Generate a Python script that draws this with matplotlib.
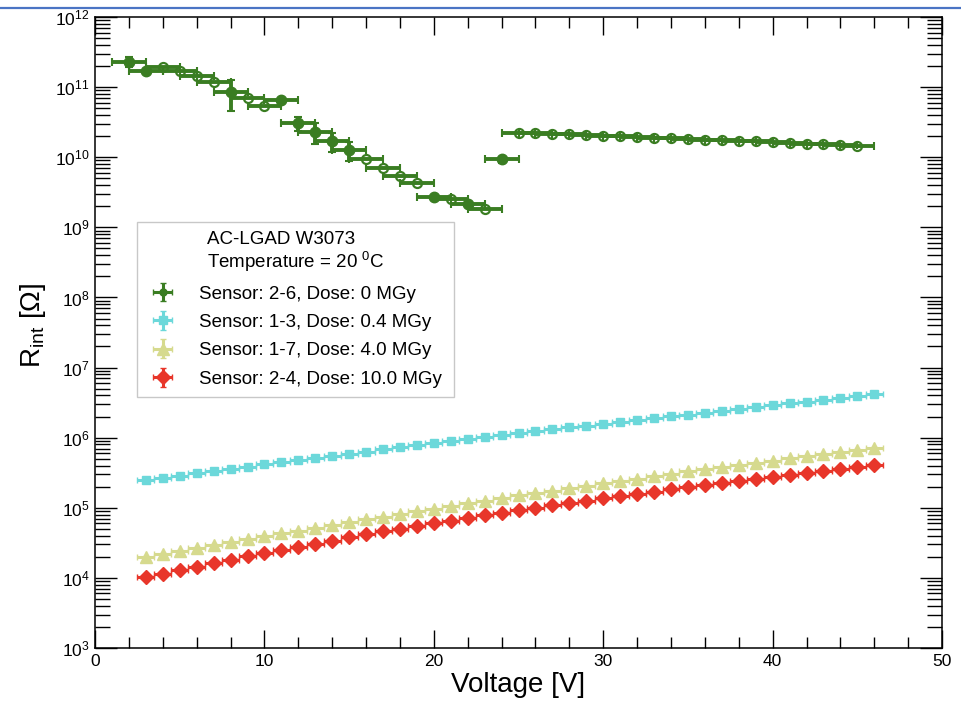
import numpy as np
import matplotlib
matplotlib.use("Agg")
import matplotlib.pyplot as plt
from matplotlib.lines import Line2D
from matplotlib.patches import Rectangle
from matplotlib.ticker import (FixedLocator, MultipleLocator, LogFormatterMathtext,
                               NullFormatter)

plt.rcParams["font.family"] = ["Liberation Sans", "DejaVu Sans"]
plt.rcParams["mathtext.fontset"] = "custom"
plt.rcParams["mathtext.rm"] = "Liberation Sans"
plt.rcParams["mathtext.it"] = "Liberation Sans:italic"

# sensor 2-6, 0 MGy (1 V steps, +-1 V on the bias)
v_26 = list(range(2, 46))
r_26 = [2.30e11, 1.71e11, 1.95e11, 1.70e11, 1.44e11, 1.17e11, 8.6e10, 7.1e10,
        5.3e10, 6.5e10, 3.04e10, 2.29e10, 1.70e10, 1.27e10, 9.4e9, 7.1e9,
        5.4e9, 4.33e9, 2.68e9, 2.53e9, 2.13e9, 1.81e9, 9.3e9,
        2.22e10, 2.20e10, 2.16e10, 2.12e10, 2.07e10, 2.03e10, 1.99e10,
        1.95e10, 1.91e10, 1.87e10, 1.83e10, 1.79e10, 1.75e10, 1.71e10,
        1.68e10, 1.64e10, 1.61e10, 1.57e10, 1.54e10, 1.50e10, 1.46e10]
r_26_err = [3.5e10, 0, 0, 0, 0, 0, 4.1e10, 0,
            0, 3.0e9, 6.5e9, 7.5e9, 5.2e9, 4.0e9, 0, 0,
            0, 0, 1.0e8, 0, 1.5e8, 0, 9.0e8,
            0, 0, 0, 0, 0, 0, 0, 0, 0, 0, 0, 0, 0, 0, 0, 0, 0, 0, 0, 0, 0]
filled_26 = [1, 1, 0, 0, 0, 0, 1, 0,
             0, 1, 1, 1, 1, 1, 0, 0,
             0, 0, 1, 0, 1, 0, 1,
             0, 0, 0, 0, 0, 0, 0, 0, 0, 0, 0, 0, 0, 0, 0, 0, 0, 0, 0, 0, 0]

# irradiated sensors, 3..46 V
v_irr = list(range(3, 47))
r_13 = [2.48e5, 2.67e5, 2.88e5, 3.10e5, 3.33e5, 3.59e5, 3.86e5, 4.16e5,
        4.47e5, 4.79e5, 5.14e5, 5.51e5, 5.92e5, 6.34e5, 6.81e5, 7.28e5,
        7.78e5, 8.32e5, 8.89e5, 9.53e5, 1.02e6, 1.09e6, 1.16e6, 1.24e6,
        1.32e6, 1.40e6, 1.49e6, 1.58e6, 1.68e6, 1.79e6, 1.90e6, 2.02e6,
        2.14e6, 2.28e6, 2.42e6, 2.57e6, 2.74e6, 2.90e6, 3.09e6, 3.28e6,
        3.49e6, 3.71e6, 3.94e6, 4.19e6]
r_17 = [2.00e4, 2.20e4, 2.42e4, 2.67e4, 2.94e4, 3.24e4, 3.56e4, 3.93e4,
        4.31e4, 4.72e4, 5.18e4, 5.68e4, 6.22e4, 6.82e4, 7.48e4, 8.17e4,
        8.91e4, 9.73e4, 1.06e5, 1.16e5, 1.26e5, 1.38e5, 1.51e5, 1.63e5,
        1.76e5, 1.91e5, 2.06e5, 2.23e5, 2.41e5, 2.61e5, 2.82e5, 3.05e5,
        3.30e5, 3.54e5, 3.80e5, 4.08e5, 4.39e5, 4.71e5, 5.06e5, 5.43e5,
        5.83e5, 6.27e5, 6.73e5, 7.23e5]
r_24 = [1.02e4, 1.14e4, 1.28e4, 1.44e4, 1.61e4, 1.81e4, 2.03e4, 2.28e4,
        2.52e4, 2.79e4, 3.08e4, 3.41e4, 3.78e4, 4.18e4, 4.62e4, 5.05e4,
        5.51e4, 6.00e4, 6.55e4, 7.14e4, 7.80e4, 8.49e4, 9.27e4, 1.00e5,
        1.08e5, 1.16e5, 1.26e5, 1.36e5, 1.46e5, 1.58e5, 1.70e5, 1.84e5,
        1.98e5, 2.12e5, 2.26e5, 2.42e5, 2.59e5, 2.77e5, 2.96e5, 3.16e5,
        3.38e5, 3.61e5, 3.86e5, 4.13e5]

labels = ["Sensor: 2-6, Dose: 0 MGy", "Sensor: 1-3, Dose: 0.4 MGy",
          "Sensor: 1-7, Dose: 4.0 MGy", "Sensor: 2-4, Dose: 10.0 MGy"]

c_green = "#3a7d22"
c_cyan = "#6cd8da"
c_yellow = "#d6da8e"
c_red = "#e8362a"

fig = plt.figure(figsize=(9.61, 7.01), dpi=100)
ax = fig.add_axes([0.0989, 0.0756, 0.8814, 0.9001])

# slide header rule
fig.add_artist(Line2D([0, 1], [1 - 8 / 701] * 2, transform=fig.transFigure,
                      color="#4a74c4", lw=1.6))

# 0 MGy: error bars first, then filled / hollow markers
v26 = np.array(v_26, float)
r26 = np.array(r_26)
f26 = np.array(filled_26, bool)
ax.errorbar(v26, r26, xerr=1.0, yerr=np.array(r_26_err), fmt="none",
            ecolor=c_green, elinewidth=2.8, capsize=3, capthick=1.5, zorder=3)
ax.plot(v26[f26], r26[f26], "o", color=c_green, ms=7.5, zorder=4)
ax.plot(v26[~f26], r26[~f26], "o", mfc="none", mec=c_green, mew=1.6,
        ms=6.5, zorder=4)

vi = np.array(v_irr, float)
h13 = ax.errorbar(vi, r_13, xerr=0.5, yerr=np.array(r_13) * 0.02, fmt="s",
                  color=c_cyan, ms=6.3, elinewidth=2.2, capsize=2.5, zorder=3)
h17 = ax.errorbar(vi, r_17, xerr=0.5, yerr=np.array(r_17) * 0.02, fmt="^",
                  color=c_yellow, ms=8, elinewidth=2.2, capsize=2.5, zorder=3)
h24 = ax.errorbar(vi, r_24, xerr=0.5, yerr=np.array(r_24) * 0.02, fmt="D",
                  color=c_red, ms=6.8, elinewidth=2.2, capsize=2.5, zorder=3)
h26 = ax.errorbar([np.nan], [np.nan], xerr=1.0, yerr=1.0, fmt="o",
                  color=c_green, ms=5, elinewidth=2.2, capsize=2.5)

ax.set_yscale("log")
ax.set_xlim(0, 50)
ax.set_ylim(1e3, 1e12)

decades = 10.0 ** np.arange(3, 13)
ax.xaxis.set_major_locator(MultipleLocator(10))
ax.xaxis.set_minor_locator(MultipleLocator(2))
ax.yaxis.set_major_locator(FixedLocator(decades))
ax.yaxis.set_minor_locator(FixedLocator(
    [d * k for d in decades[:-1] for k in range(2, 10)]))
ax.yaxis.set_major_formatter(LogFormatterMathtext())
ax.yaxis.set_minor_formatter(NullFormatter())

ax.tick_params(which="both", direction="in", top=True, right=True,
               labelsize=12.5, width=1.0, color="black")
ax.tick_params(axis="x", which="major", length=13, pad=4)
ax.tick_params(axis="x", which="minor", length=8)
ax.tick_params(axis="y", which="major", length=16, pad=4)
ax.tick_params(axis="y", which="minor", length=11)
for s in ax.spines.values():
    s.set_linewidth(1.1)

ax.set_xlabel("Voltage [V]", fontsize=20)
ax.xaxis.set_label_coords(0.5, -0.038)
ax.set_ylabel(r"R$_{\rm int}$ [$\Omega$]", fontsize=20)
ax.yaxis.set_label_coords(-0.056, 0.512)

# legend box with two header lines
ax.add_patch(Rectangle((0.0496, 0.3978), 0.3742, 0.2773, transform=ax.transAxes,
                       fill=True, facecolor="white", edgecolor="#c8c8c8",
                       lw=1.0, zorder=5))
ax.text(0.1318, 0.6482, "AC-LGAD W3073", transform=ax.transAxes,
        fontsize=13.5, va="center", ha="left", zorder=6)
ax.text(0.1318, 0.6117, r"Temperature = 20 $^{0}$C", transform=ax.transAxes,
        fontsize=13.5, va="center", ha="left", zorder=6)
leg = ax.legend([h26, h13, h17, h24], labels, loc="upper left",
                bbox_to_anchor=(0.0649, 0.5745), frameon=False, fontsize=13.5,
                borderpad=0, borderaxespad=0, handlelength=1.35,
                handletextpad=1.28, labelspacing=0.6)
leg.set_zorder(7)

fig.savefig("out.png", dpi=100)
